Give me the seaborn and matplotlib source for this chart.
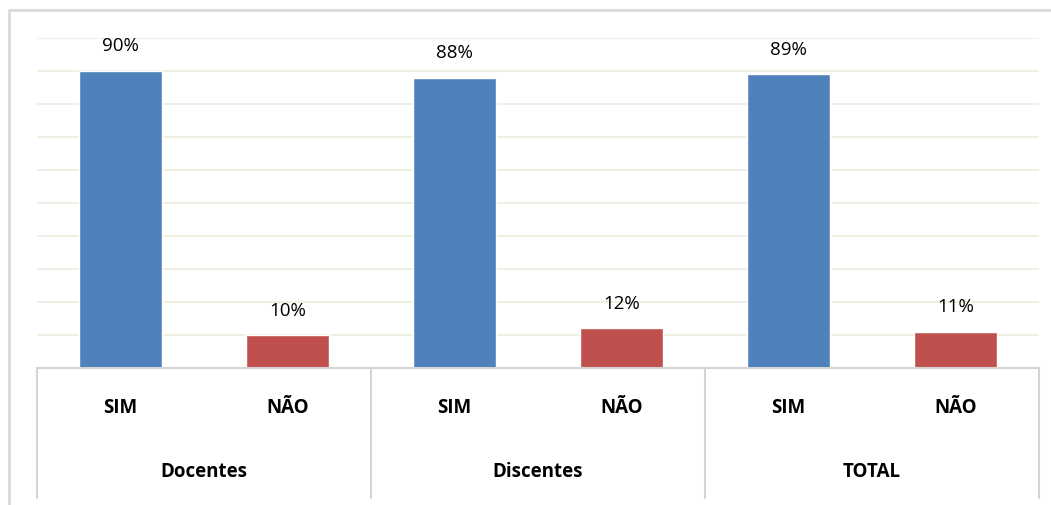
import numpy as np
import pandas as pd
import matplotlib
matplotlib.use('Agg')
import matplotlib.pyplot as plt
import matplotlib.transforms as mtransforms
import seaborn as sns

# data
groups = ['Docentes', 'Discentes', 'TOTAL']
answers = ['SIM', 'NÃO']
sim_values = [90, 88, 89]
nao_values = [10, 12, 11]

rows = []
for g, s, n in zip(groups, sim_values, nao_values):
    rows.append({'grupo': g, 'resposta': 'SIM', 'pct': s, 'cat': g + ' SIM'})
    rows.append({'grupo': g, 'resposta': 'NÃO', 'pct': n, 'cat': g + ' NÃO'})
df = pd.DataFrame(rows)

sns.set_style('white')
plt.rcParams['font.family'] = ['Open Sans', 'DejaVu Sans']
plt.rcParams['text.color'] = 'black'

fig = plt.figure(figsize=(10.51, 5.06), dpi=100)
ax = fig.add_axes([37 / 1051, 1 - 369 / 506, 1002 / 1051, 330 / 506])

sns.barplot(data=df, x='cat', y='pct', hue='resposta', palette={'SIM': '#4F81BD', 'NÃO': '#C0504D'},
            dodge=False, width=0.5, ax=ax, legend=False, saturation=1)

ax.set_ylim(0, 100)
ax.set_xlim(-0.5, len(df) - 0.5)
ax.set_yticks(np.arange(10, 101, 10))
ax.yaxis.grid(True, color='#EEEEE0', linewidth=1.3)
ax.set_axisbelow(True)
ax.tick_params(left=False, bottom=False, labelleft=False, labelbottom=False)
ax.set_xlabel('')
ax.set_ylabel('')
for side in ['top', 'right', 'left']:
    ax.spines[side].set_visible(False)
ax.spines['bottom'].set_color('#D4D4D4')
ax.spines['bottom'].set_linewidth(1.5)

# value labels (read each bar's own height)
for patch in ax.patches:
    h = patch.get_height()
    if np.isnan(h) or patch.get_width() == 0:
        continue
    ax.text(patch.get_x() + patch.get_width() / 2, h + 5.0, f'{h:.0f}%',
            ha='center', va='bottom', fontsize=13.5, color='black')

# two-level category axis
trans = mtransforms.blended_transform_factory(ax.transData, ax.transAxes)
for i, cat in enumerate(df['resposta']):
    ax.text(i, -0.118, cat, transform=trans, ha='center', va='center',
            fontsize=13.5, fontweight='bold', color='black')
for j, g in enumerate(groups):
    ax.text(2 * j + 0.5, -0.312, g, transform=trans, ha='center', va='center',
            fontsize=13.5, fontweight='bold', color='black')
for k in range(len(groups) + 1):
    ax.plot([2 * k - 0.5, 2 * k - 0.5], [0, -0.395], transform=trans, color='#D4D4D4',
            linewidth=1.5, clip_on=False)

# outer chart border
fig.add_artist(plt.Line2D([9 / 1051, 1.0], [1 - 11 / 506, 1 - 11 / 506], color='#D9D9D9', linewidth=2))
fig.add_artist(plt.Line2D([9 / 1051, 9 / 1051], [0, 1 - 11 / 506], color='#D9D9D9', linewidth=2))

fig.savefig('out.png', dpi=100)
